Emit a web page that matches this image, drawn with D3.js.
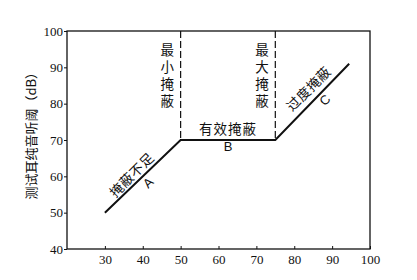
<!DOCTYPE html>
<html>
<head>
<meta charset="utf-8">
<script src="https://cdn.jsdelivr.net/npm/d3@7"></script>
<style>
    body { margin: 0; background: #fff; }
    .tick text { font-family: "Liberation Serif", "DejaVu Serif", serif; font-size: 13px; fill: #111; }
    .cn { font-family: "Noto Sans CJK SC", sans-serif; font-size: 13.5px; fill: #111; }
    .lt { font-family: "Liberation Sans", sans-serif; font-size: 13px; fill: #111; }
</style>
</head>
<body>
<svg width="417" height="280"></svg>
<script>
    // masking curve: masker level (x) vs threshold of test ear (y)
    var xs = [30, 50, 75, 94.5],
        ys = [50, 70, 70, 91];
    var xTicks = [30, 40, 50, 60, 70, 80, 90, 100],
        yTicks = [40, 50, 60, 70, 80, 90, 100];
    var plateauEdges = [50, 75];

    var margin = { top: 31, right: 47, bottom: 31, left: 67 },
        svg = d3.select("svg"),
        width = +svg.attr("width") - margin.left - margin.right,
        height = +svg.attr("height") - margin.top - margin.bottom;

    var x = d3.scaleLinear().domain([20, 100]).range([0, width]),
        y = d3.scaleLinear().domain([40, 100]).range([height, 0]);

    var g = svg.append("g")
        .attr("transform", "translate(" + margin.left + "," + margin.top + ")");

    // frame
    g.append("rect")
        .attr("width", width)
        .attr("height", height)
        .attr("fill", "none")
        .attr("stroke", "#111")
        .attr("stroke-width", 1.3);

    var xAxis = g.append("g")
        .attr("transform", "translate(0," + height + ")")
        .call(d3.axisBottom(x).tickValues(xTicks).tickSize(-3).tickPadding(6));
    xAxis.select(".domain").remove();
    xAxis.selectAll(".tick line").attr("stroke", "#111");

    var yAxis = g.append("g")
        .call(d3.axisLeft(y).tickValues(yTicks).tickSize(3).tickPadding(1));
    yAxis.select(".domain").remove();
    yAxis.selectAll(".tick line").attr("stroke", "#111");

    // dashed borders of effective masking
    g.selectAll(".edge")
        .data(plateauEdges)
        .enter().append("line")
        .attr("class", "edge")
        .attr("x1", function(d) { return x(d); })
        .attr("x2", function(d) { return x(d); })
        .attr("y1", 0)
        .attr("y2", y(70))
        .attr("stroke", "#111")
        .attr("stroke-width", 1.2)
        .attr("stroke-dasharray", "7,3");

    var pts = xs.map(function(d, i) { return [d, ys[i]]; });
    g.append("path")
        .datum(pts)
        .attr("fill", "none")
        .attr("stroke", "#111")
        .attr("stroke-width", 2)
        .attr("d", d3.line()
            .x(function(d) { return x(d[0]); })
            .y(function(d) { return y(d[1]); }));

    // vertical labels (top-to-bottom writing)
    function vText(str, xv, yv) {
        g.append("text")
            .attr("class", "cn")
            .attr("x", x(xv))
            .attr("y", y(yv))
            .style("writing-mode", "vertical-rl")
            .style("letter-spacing", "3.5px")
            .text(str);
    }
    vText("最小掩蔽", 46.5, 96.8);
    vText("最大掩蔽", 71.5, 96.8);

    function label(str, cls, xv, yv, rot, ls) {
        g.append("text")
            .attr("class", cls)
            .attr("text-anchor", "middle")
            .attr("dominant-baseline", "central")
            .style("letter-spacing", ls + "px")
            .attr("transform", "translate(" + x(xv) + "," + y(yv) + ") rotate(" + rot + ")")
            .text(str);
    }
    label("有效掩蔽", "cn", 62.5, 73.3, 0, 1);
    label("B", "lt", 62.5, 68.1, 0, 0);
    label("掩蔽不足", "cn", 36.9, 60.6, -45, 0.5);
    label("A", "lt", 41.4, 58.2, -45, 0);
    label("过度掩蔽", "cn", 83.6, 84.3, -45, 0.5);
    label("C", "lt", 88.1, 81.0, -45, 0);

    svg.append("text")
        .attr("class", "cn")
        .attr("text-anchor", "middle")
        .style("font-size", "13px")
        .attr("transform", "translate(36," + (margin.top + y(72)) + ") rotate(-90)")
        .text("测试耳纯音听阈（dB）");
</script>
</body>
</html>
